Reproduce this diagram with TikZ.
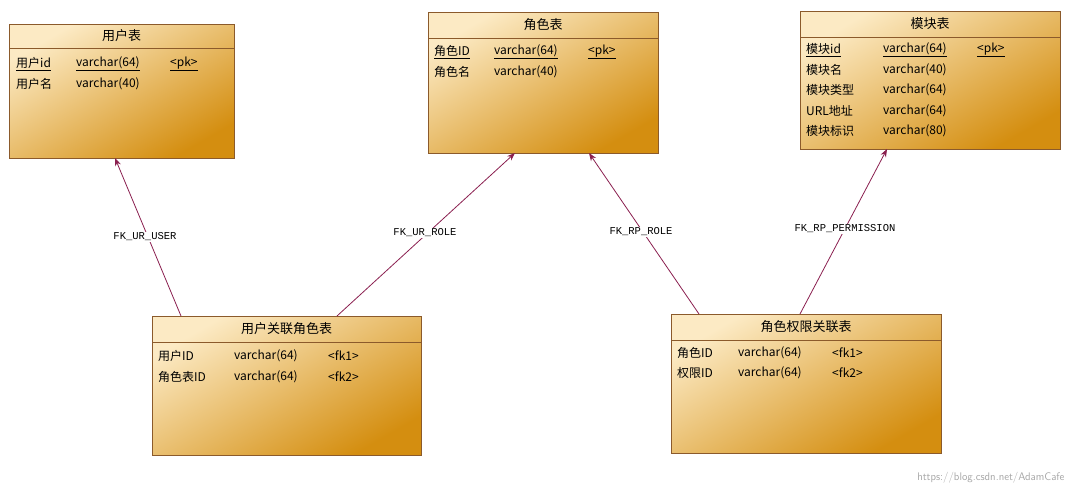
\documentclass[tikz,border=0pt]{standalone}
\usepackage{fontspec}
\setmonofont{Liberation Mono}
\newfontfamily\cjk{Noto Sans CJK SC}
\usetikzlibrary{arrows.meta}
\definecolor{bd}{HTML}{8B5A2B}
\definecolor{fk}{HTML}{8A1F4F}
\tikzset{
 tbl/.style={draw=bd, line width=0.8pt, top color=#1, bottom color=#1, anchor=north west, inner sep=0pt},
 ent/.style={draw=bd, line width=0.9pt, shading=axis, top color={rgb,255:red,252;green,234;blue,196}, bottom color={rgb,255:red,212;green,142;blue,16}, shading angle=30, anchor=north west, inner sep=0pt},
 ttl/.style={font=\cjk\fontsize{13}{15}\selectfont, anchor=center},
 fld/.style={font=\cjk\fontsize{12}{14}\selectfont, anchor=west, inner sep=0pt},
 lbl/.style={font=\ttfamily\fontsize{10.5}{12}\selectfont, fill=white, inner sep=1pt},
 rel/.style={draw=fk, line width=0.8pt, -{Stealth[length=8pt,width=6pt]}}
}
\begin{document}
\begin{tikzpicture}[x=1pt,y=-1pt]
\useasboundingbox (0,0) rectangle (1074,494);
% entities
\node[ent, minimum width=225pt, minimum height=134pt] (u) at (9,24) {};
\node[ent, minimum width=230pt, minimum height=141pt] (r) at (428,12) {};
\node[ent, minimum width=260pt, minimum height=138pt] (m) at (800,11) {};
\node[ent, minimum width=269pt, minimum height=139pt] (ur) at (152,316) {};
\node[ent, minimum width=270pt, minimum height=139pt] (rp) at (671,314) {};
\draw[bd, line width=0.8pt] (9,48) -- (234,48);
\draw[bd, line width=0.8pt] (428,38) -- (658,38);
\draw[bd, line width=0.8pt] (800,37) -- (1060,37);
\draw[bd, line width=0.8pt] (152,342) -- (421,342);
\draw[bd, line width=0.8pt] (671,340) -- (941,340);
\node[ttl] at (121.5,36) {用户表};
\node[ttl] at (543,25) {角色表};
\node[ttl] at (930,24) {模块表};
\node[ttl] at (286.5,329) {用户关联角色表};
\node[ttl] at (806,327) {角色权限关联表};
% 用户表
\node[fld] at (16,64) {\underline{用户id}}; \node[fld] at (76,64) {\underline{varchar(64)}}; \node[fld] at (170,64) {\underline{<pk>}};
\node[fld] at (16,84) {用户名}; \node[fld] at (76,84) {varchar(40)};
% 角色表
\node[fld] at (434,52) {\underline{角色ID}}; \node[fld] at (494,52) {\underline{varchar(64)}}; \node[fld] at (588,52) {\underline{<pk>}};
\node[fld] at (434,72) {角色名}; \node[fld] at (494,72) {varchar(40)};
% 模块表
\node[fld] at (806,50) {\underline{模块id}}; \node[fld] at (883,50) {\underline{varchar(64)}}; \node[fld] at (977,50) {\underline{<pk>}};
\node[fld] at (806,70) {模块名}; \node[fld] at (883,70) {varchar(40)};
\node[fld] at (806,90) {模块类型}; \node[fld] at (883,90) {varchar(64)};
\node[fld] at (806,111) {URL地址}; \node[fld] at (883,111) {varchar(64)};
\node[fld] at (806,131) {模块标识}; \node[fld] at (883,131) {varchar(80)};
% 用户关联角色表
\node[fld] at (158,356) {用户ID}; \node[fld] at (234,356) {varchar(64)}; \node[fld] at (328,356) {<fk1>};
\node[fld] at (158,377) {角色表ID}; \node[fld] at (234,377) {varchar(64)}; \node[fld] at (328,377) {<fk2>};
% 角色权限关联表
\node[fld] at (677,353) {角色ID}; \node[fld] at (738,353) {varchar(64)}; \node[fld] at (832,353) {<fk1>};
\node[fld] at (677,373) {权限ID}; \node[fld] at (738,373) {varchar(64)}; \node[fld] at (832,373) {<fk2>};
% relations
\coordinate (a1) at (181,316); \coordinate (b1) at (115,158);
\coordinate (a2) at (337,316); \coordinate (b2) at (515,153);
\coordinate (a3) at (699,314); \coordinate (b3) at (589,153);
\coordinate (a4) at (800,314); \coordinate (b4) at (887,149);
\draw[rel] (a1) -- (b1);
\draw[rel] (a2) -- (b2);
\draw[rel] (a3) -- (b3);
\draw[rel] (a4) -- (b4);
\node[lbl] (l1) at (145,237) {FK\_UR\_USER};
\node[lbl] (l2) at (425,233) {FK\_UR\_ROLE};
\node[lbl] (l3) at (641,232) {FK\_RP\_ROLE};
\node[lbl] (l4) at (845,229) {FK\_RP\_PERMISSION};
\node[font=\sffamily\fontsize{11}{13}\selectfont, text=gray!70, anchor=east] (wm) at (1068,478) {https://blog.csdn.net/AdamCafe};
\end{tikzpicture}
\end{document}
